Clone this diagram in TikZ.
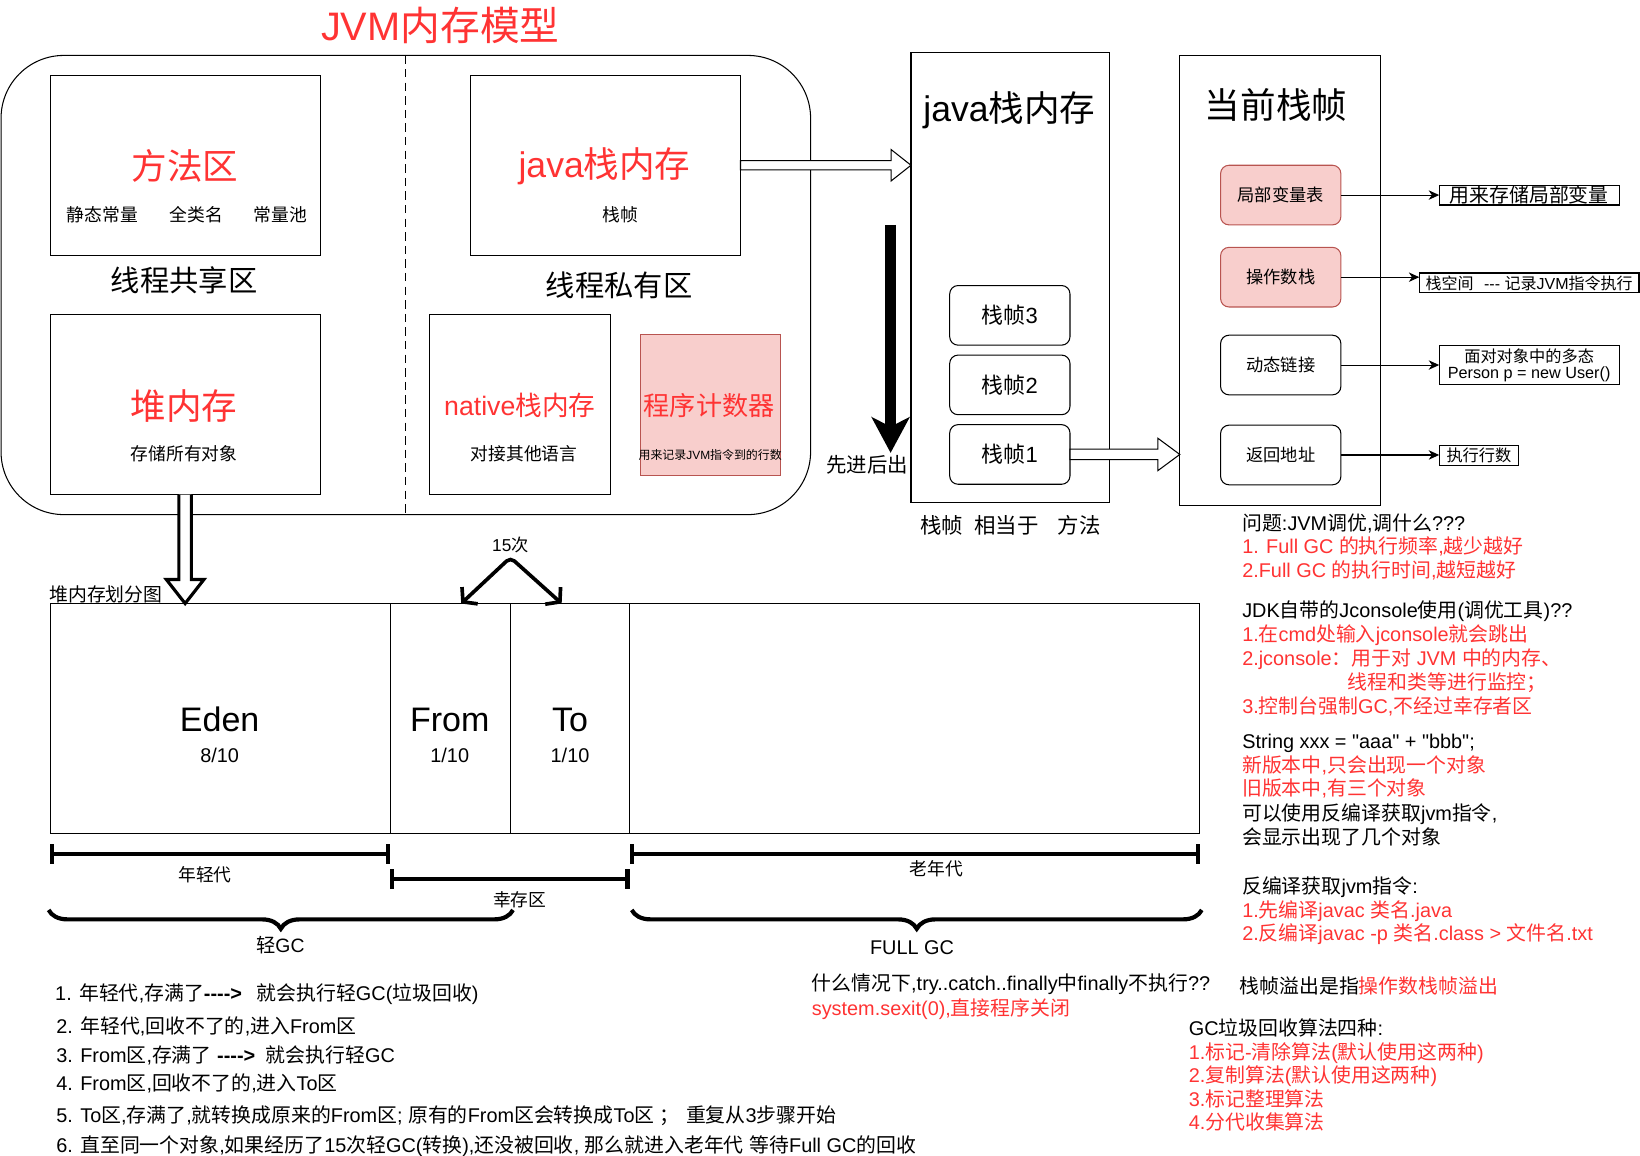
\documentclass[tikz,border=0pt]{standalone}
\usepackage{fontspec}
\newfontfamily\latinfont{Liberation Sans}
\newfontfamily\cjkfont{Noto Sans CJK SC}
\usetikzlibrary{arrows.meta,calc,positioning,decorations.pathreplacing}

% CJK characters switch to the CJK family
\XeTeXinterchartokenstate=1
\newXeTeXintercharclass\cjkclass
\newcount\cjkcode
\cjkcode="2E80
\loop
  \XeTeXcharclass\cjkcode=\cjkclass
  \advance\cjkcode by 1
\ifnum\cjkcode<"A000 \repeat
\cjkcode="FF00
\loop
  \XeTeXcharclass\cjkcode=\cjkclass
  \advance\cjkcode by 1
\ifnum\cjkcode<"FFF0 \repeat
\XeTeXinterchartoks 0 \cjkclass = {\begingroup\cjkfont}
\XeTeXinterchartoks 4095 \cjkclass = {\begingroup\cjkfont}
\XeTeXinterchartoks \cjkclass 0 = {\endgroup}
\XeTeXinterchartoks \cjkclass 4095 = {\endgroup}

\definecolor{jvmred}{HTML}{FF3333}
\definecolor{pinkfill}{HTML}{F8CECC}
\definecolor{pinkline}{HTML}{B85450}

\newcommand{\fsz}[1]{\latinfont\fontsize{#1}{#1}\selectfont}
\newcommand{\hy}{-\kern0pt}

\tikzset{
  area/.style={draw, line width=1pt, inner sep=0pt, outer sep=0pt},
  stackbox/.style={draw, line width=1pt, rounded corners=8pt, inner sep=0pt, outer sep=0pt,
    minimum width=115pt, minimum height=57pt, font=\fsz{#1}},
  stackbox/.default=16.5,
  pinkframe/.style={stackbox=#1, fill=pinkfill, draw=pinkline},
  pinkframe/.default=16.5,
  notebox/.style={draw, line width=1pt, inner sep=0pt, outer sep=0pt, minimum height=19pt, font=\fsz{#1}},
  notebox/.default=15.5,
  txt/.style={inner sep=0pt, font=\fsz{#1}},
  txt/.default=19,
  redtxt/.style={txt=#1, text=jvmred},
  redtxt/.default=19,
  txtline/.style={txt=19, anchor=base west},
  redline/.style={txtline, text=jvmred},
  hollow/.style={draw, line width=1pt, fill=white, line join=miter},
  thinarrow/.style={line width=1pt, -{Stealth[length=10pt, width=9pt, inset=3pt]}},
  measure/.style={line width=4pt, {Bar[width=19pt]}-{Bar[width=19pt]}},
  bracket/.style={line width=4pt, decorate, decoration={brace, mirror, amplitude=18pt}},
}

\begin{document}
\begin{tikzpicture}[x=1pt, y=-1pt, font=\latinfont]
\useasboundingbox (0,0) rectangle (1568,1105);

% JVM内存模型
\node[redtxt=38] (title) at (421,24) {JVM内存模型};
\node[area, rounded corners=60pt, minimum width=774pt, minimum height=439pt] (jvm) at (388,272.5) {};
\draw[line width=1.2pt, dash pattern=on 8pt off 5pt] (jvm.north) -- (jvm.south);

\node[area, minimum width=258pt, minimum height=172pt] (method) at (177,158) {};
\node[redtxt=34] (methodT) at (177,159) {方法区};
\node[txt=17] (static) at (98,205) {静态常量};
\node[txt=17] (cls) at (188,205) {全类名};
\node[txt=17] (pool) at (268,205) {常量池};
\node[txt=28] (shared) at (176,268) {线程共享区};

\node[area, minimum width=258pt, minimum height=172pt] (jstack) at (579,158) {};
\node[redtxt=34] (jstackT) at (578,159) {java栈内存};
\node[txt=17] (jstackS) at (593,205) {栈帧};
\node[txt=28] (private) at (592,273) {线程私有区};

\node[area, minimum width=258pt, minimum height=172pt] (heap) at (177,387) {};
\node[redtxt=34] (heapT) at (176,388) {堆内存};
\node[txt=17] (heapS) at (176,434) {存储所有对象};

\node[area, minimum width=173pt, minimum height=172pt] (native) at (497.5,387) {};
\node[redtxt=25.5] (nativeT) at (497,388) {native栈内存};
\node[txt=17] (nativeS) at (501,434) {对接其他语言};

\node[area, fill=pinkfill, draw=pinkline, minimum width=134pt, minimum height=135pt] (pc) at (679,387.5) {};
\node[redtxt=25] (pcT) at (678,388) {程序计数器};
\node[txt=11.4] (pcS) at (679,435) {用来记录JVM指令到的行数};

% java栈内存
\node[area, minimum width=190pt, minimum height=430pt] (jvs) at (966,265) {};
\node[txt=34] (jvsT) at (965,105) {java栈内存};
\node[stackbox=21] (f3) at (965.5,301.5) {栈帧3};
\node[stackbox=21, below=9.5pt of f3] (f2) {栈帧2};
\node[stackbox=21, below=9.5pt of f2] (f1) {栈帧1};
\node[txt=20.5] (same) at (966,502) {栈帧\hspace{11pt}相当于\hspace{18pt}方法};
\coordinate (fifoTop) at (851.5,215);
\coordinate (fifoEnd) at (851.5,433);
\draw[line width=11pt, -{Stealth[length=34pt, width=36pt, inset=9pt]}] (fifoTop) -- (fifoEnd);
\node[txt=19.5] (fifo) at (829,444) {先进后出};

\draw[hollow] ($(jstack.east)+(0,-4.5)$) -- ($(jvs.west |- jstack.east)+(-19,-4.5)$)
  -- ($(jvs.west |- jstack.east)+(-19,-15)$) -- (jvs.west |- jstack.east)
  -- ($(jvs.west |- jstack.east)+(-19,15)$) -- ($(jvs.west |- jstack.east)+(-19,4.5)$)
  -- ($(jstack.east)+(0,4.5)$) -- cycle;

% 当前栈帧
\node[area, minimum width=192pt, minimum height=430pt] (cur) at (1224,268) {};
\node[txt=34] (curT) at (1220,100) {当前栈帧};
\node[pinkframe] (locals) at (1224.5,186.5) {局部变量表};
\node[pinkframe] (operand) at (1224.5,265) {操作数栈};
\node[stackbox] (dynlink) at (1224.5,349) {动态链接};
\node[stackbox] (retaddr) at (1224.5,435) {返回地址};

\node[notebox=19, minimum width=172pt] (n1) at (1462,186.5) {用来存储局部变量};
\node[notebox=15.3, minimum width=210pt] (n2) at (1462,270.5) {栈空间\hspace{10pt}\hy\hy- 记录JVM指令执行};
\node[notebox=15.5, minimum width=172pt, minimum height=38pt, align=center] (n3) at (1462,349) {面对对象中的多态\\Person p = new User()};
\node[notebox=15.5, minimum width=76pt] (n4) at (1414,435.5) {执行行数};
\draw[thinarrow] (locals.east) -- (locals.east -| n1.west);
\draw[thinarrow] (operand.east) -- (operand.east -| n2.west);
\draw[thinarrow] (dynlink.east) -- (dynlink.east -| n3.west);
\draw[thinarrow] (retaddr.east) -- (retaddr.east -| n4.west);

\draw[hollow] ($(f1.east)+(0,-5)$) -- ($(cur.west |- f1.east)+(-21,-5)$)
  -- ($(cur.west |- f1.east)+(-21,-15.5)$) -- (cur.west |- f1.east)
  -- ($(cur.west |- f1.east)+(-21,15.5)$) -- ($(cur.west |- f1.east)+(-21,5)$)
  -- ($(f1.east)+(0,5)$) -- cycle;

% 堆内存划分图
\node[txt=18, anchor=west] (divT) at (47,568) {堆内存划分图};
\node[area, minimum width=325pt, minimum height=220pt] (eden) at (210.5,687) {};
\node[area, minimum width=115pt, minimum height=220pt, right=0pt of eden] (fromq) {};
\node[area, minimum width=114pt, minimum height=220pt, right=0pt of fromq] (toq) {};
\node[area, minimum width=545pt, minimum height=220pt, right=0pt of toq] (oldq) {};
\node[txt=32.5] (edenT) at (210,688) {Eden};
\node[txt=19] (edenR) at (210,722) {8/10};
\node[txt=32.5] (fromT) at (430,688) {From};
\node[txt=19] (fromR) at (430,722) {1/10};
\node[txt=32.5] (toT) at (545,688) {To};
\node[txt=19] (toR) at (545,722) {1/10};

\draw[hollow, line width=3pt] ($(heap.south)+(-6,0)$) -- ($(heap.south |- eden.north)+(-6,-23)$)
  -- ($(heap.south |- eden.north)+(-18,-23)$) -- (heap.south |- eden.north)
  -- ($(heap.south |- eden.north)+(18,-23)$) -- ($(heap.south |- eden.north)+(6,-23)$)
  -- ($(heap.south)+(6,0)$);

\node[txt=16.5] (times) at (488,521) {15次};
\coordinate (apex) at (488,533);
\draw[line width=3.5pt, rounded corners=5pt, {Straight Barb[length=9pt, width=22pt]}-{Straight Barb[length=9pt, width=22pt]}]
  ($(fromq.north)+(10.5,0)$) -- (apex) -- ($(toq.north)+(-8,0)$);

\draw[measure] ($(eden.south west)+(0,19.5)$) -- ($(eden.south east)+(0,19.5)$);
\node[txt=17] (young) at (196,836) {年轻代};
\draw[measure] ($(fromq.south west)+(0,43.5)$) -- ($(toq.south east)+(0,43.5)$);
\node[txt=17] (survivor) at (497,860) {幸存区};
\draw[measure] ($(oldq.south west)+(0,19.5)$) -- ($(oldq.south east)+(0,19.5)$);
\node[txt=17] (old) at (895,831) {老年代};

\draw[bracket] ($(eden.south west)+(-1.5,73)$) -- ($(toq.south west)+(2.5,73)$);
\node[txt=18.5] (minor) at (268,904) {轻GC};
\draw[bracket] ($(oldq.south west)+(2,73)$) -- ($(oldq.south east)+(2,73)$);
\node[txt=19] (full) at (872,906) {FULL GC};

% GC steps
\node[txtline] (s1) at (52.6,956.6) {1. 年轻代,存满了\textbf{\hy\hy\hy\hy>}\hspace{14pt}就会执行轻GC(垃圾回收)};
\node[txtline] (s2) at (53.7,988) {2. 年轻代,回收不了的,进入From区};
\node[txtline] (s3) at (53.7,1015.6) {3. From区,存满了 \textbf{\hy\hy\hy\hy>}\hspace{10pt}就会执行轻GC};
\node[txtline] (s4) at (53.7,1042.6) {4. From区,回收不了的,进入To区};
\node[txtline] (s5) at (53.7,1073.6) {5. To区,存满了,就转换成原来的From区; 原有的From区会转换成To区 ；\hspace{6pt}重复从3步骤开始};
\node[txtline] (s6) at (53.7,1101.7) {6. 直至同一个对象,如果经历了15次轻GC(转换),还没被回收, 那么就进入老年代 等待Full GC的回收};

\node[txtline] (fin1) at (776,947) {什么情况下,try..catch..finally中finally不执行??};
\node[redline] (fin2) at (776,971) {system.sexit(0),直接程序关闭};

% notes
\node[txtline] (q0) at (1187.5,507) {问题:JVM调优,调什么???};
\node[redline] (q1) at (1187.5,529) {1. Full GC 的执行频率,越少越好};
\node[redline] (q2) at (1187.5,552) {2.Full GC 的执行时间,越短越好};
\node[txtline] (j0) at (1187.5,590) {JDK自带的Jconsole使用(调优工具)??};
\node[redline] (j1) at (1187.5,613) {1.在cmd处输入jconsole就会跳出};
\node[redline] (j2) at (1187.5,636) {2.jconsole：用于对 JVM 中的内存、};
\node[redline] (j3) at (1288.5,659.6) {线程和类等进行监控；};
\node[redline] (j4) at (1187.5,682) {3.控制台强制GC,不经过幸存者区};
\node[txtline] (t0) at (1187.5,716) {String xxx = "aaa" + "bbb";};
\node[redline] (t1) at (1187.5,739) {新版本中,只会出现一个对象};
\node[redline] (t2) at (1187.5,761) {旧版本中,有三个对象};
\node[txtline] (t3) at (1187.5,784) {可以使用反编译获取jvm指令,};
\node[txtline] (t4) at (1187.5,807) {会显示出现了几个对象};
\node[txtline] (d0) at (1187.5,853.8) {反编译获取jvm指令:};
\node[redline] (d1) at (1187.5,877) {1.先编译javac 类名.java};
\node[redline] (d2) at (1187.5,899) {2.反编译javac -p 类名.class > 文件名.txt};
\node[txtline] (ov) at (1185,950) {栈帧溢出是指{\color{jvmred}操作数栈帧溢出}};
\node[txtline] (g0) at (1136.5,990) {GC垃圾回收算法四种:};
\node[redline] (g1) at (1136.5,1013) {1.标记-清除算法(默认使用这两种)};
\node[redline] (g2) at (1136.5,1035) {2.复制算法(默认使用这两种)};
\node[redline] (g3) at (1136.5,1058) {3.标记整理算法};
\node[redline] (g4) at (1136.5,1080) {4.分代收集算法};
\end{tikzpicture}
\end{document}
